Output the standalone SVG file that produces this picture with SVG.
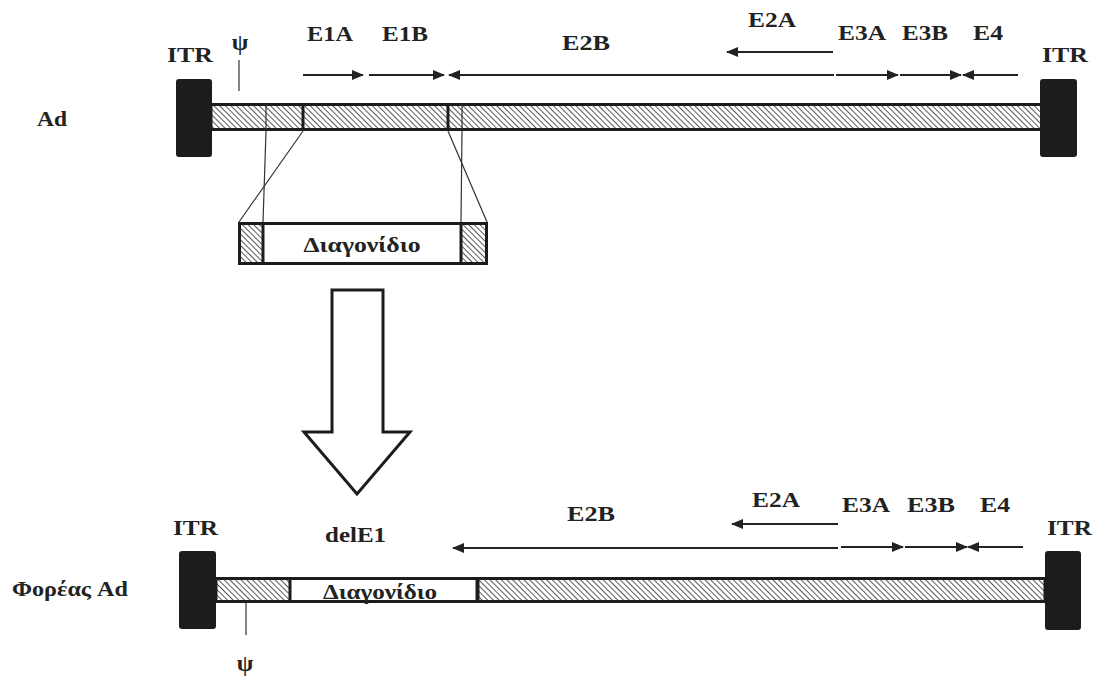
<svg xmlns="http://www.w3.org/2000/svg" width="1093" height="678" viewBox="0 0 1093 678">
<style>
text{font-family:"Liberation Serif","Times New Roman",serif;font-weight:bold;fill:#222;font-size:21px}
.itr{fill:#1c1c1c}
.bar{fill:url(#hatch);stroke:#1c1c1c;stroke-width:3}
.white{fill:#fff;stroke:#1c1c1c;stroke-width:3}
.div{stroke:#1c1c1c;stroke-width:3}
.thin{stroke:#333;stroke-width:1.2;fill:none}
.arr{stroke:#222;stroke-width:2;fill:none;marker-end:url(#ah)}
.psi{font-size:24px}
</style>
<defs>
<pattern id="hatch" patternUnits="userSpaceOnUse" width="4" height="4" patternTransform="rotate(-45)">
<rect width="4" height="4" fill="#fff"/>
<line x1="0" y1="0" x2="0" y2="4" stroke="#222" stroke-width="1.5"/>
</pattern>
<marker id="ah" markerUnits="userSpaceOnUse" markerWidth="12" markerHeight="10" refX="11" refY="5" orient="auto">
<path d="M0,0 L12,5 L0,10 z" fill="#222"/>
</marker>
</defs>
<rect width="1093" height="678" fill="#fff"/>

<g id="ad-top">
<rect class="bar" x="211" y="104.5" width="831" height="25"/>
<line class="div" x1="303" y1="104" x2="303" y2="130"/>
<line class="div" x1="448" y1="104" x2="448" y2="130"/>
<line class="thin" x1="266" y1="104" x2="266" y2="130"/>
<line class="thin" x1="462" y1="104" x2="462" y2="130"/>
<rect class="itr" x="176" y="79" width="36" height="78" rx="3"/>
<rect class="itr" x="1040" y="79" width="37" height="78" rx="3"/>
<line class="thin" x1="239" y1="60" x2="239" y2="91"/>
<text x="167" y="62" textLength="46" lengthAdjust="spacingAndGlyphs">ITR</text>
<text x="1042" y="62" textLength="46" lengthAdjust="spacingAndGlyphs">ITR</text>
<text class="psi" x="240" y="50" text-anchor="middle">ψ</text>
<text x="37" y="126" textLength="30" lengthAdjust="spacingAndGlyphs" font-size="19">Ad</text>
</g>

<g id="transgene-box">
<rect class="white" x="239.5" y="223.5" width="247" height="40"/>
<rect x="241" y="225" width="22" height="37" fill="url(#hatch)"/>
<rect x="462" y="225" width="23" height="37" fill="url(#hatch)"/>
<line class="div" x1="263" y1="223" x2="263" y2="264"/>
<line class="div" x1="461" y1="223" x2="461" y2="264"/>
<text x="362" y="252" text-anchor="middle" textLength="117" lengthAdjust="spacingAndGlyphs" font-size="19">Διαγονίδιο</text>
</g>

<g id="block-arrow">
<polygon points="332,290 383,290 383,432 410,432 357,494 304,432 332,432" fill="#fff" stroke="#1c1c1c" stroke-width="3" stroke-linejoin="miter"/>
</g>

<g id="ad-vector">
<rect class="bar" x="216" y="578.5" width="829" height="23"/>
<rect class="white" x="290" y="578.5" width="187" height="23"/>
<line class="div" x1="478" y1="578" x2="478" y2="602"/>
<rect class="itr" x="179" y="551" width="37" height="78" rx="3"/>
<rect class="itr" x="1045" y="551" width="36" height="79" rx="3"/>
<line class="thin" x1="246" y1="603" x2="246" y2="635"/>
<text x="380" y="599" text-anchor="middle" textLength="114" lengthAdjust="spacingAndGlyphs" font-size="19">Διαγονίδιο</text>
<text x="173" y="535" textLength="45" lengthAdjust="spacingAndGlyphs">ITR</text>
<text x="1047" y="535" textLength="45" lengthAdjust="spacingAndGlyphs">ITR</text>
<text x="325" y="542" textLength="61" lengthAdjust="spacingAndGlyphs">delE1</text>
<text class="psi" x="245" y="671" text-anchor="middle">ψ</text>
<text x="12" y="596" textLength="116" lengthAdjust="spacingAndGlyphs" font-size="19">Φορέας Ad</text>
</g>

<g id="connectors">
<line class="thin" x1="266" y1="131" x2="263" y2="222"/>
<line class="thin" x1="303" y1="131" x2="239" y2="222"/>
<line class="thin" x1="448" y1="131" x2="487" y2="222"/>
<line class="thin" x1="462" y1="131" x2="461" y2="222"/>
</g>

<g id="genes-top">
<line class="arr" x1="303" y1="75" x2="363" y2="75"/>
<line class="arr" x1="369" y1="75" x2="444" y2="75"/>
<line class="arr" x1="834" y1="75" x2="449" y2="75"/>
<line class="arr" x1="833" y1="52" x2="727" y2="52"/>
<line class="arr" x1="836" y1="75" x2="898" y2="75"/>
<line class="arr" x1="900" y1="75" x2="961" y2="75"/>
<line class="arr" x1="1018" y1="75" x2="963" y2="75"/>
<text x="307" y="41" textLength="46" lengthAdjust="spacingAndGlyphs">E1A</text>
<text x="382" y="41" textLength="46" lengthAdjust="spacingAndGlyphs">E1B</text>
<text x="562" y="50" textLength="48" lengthAdjust="spacingAndGlyphs">E2B</text>
<text x="748" y="27" textLength="48" lengthAdjust="spacingAndGlyphs">E2A</text>
<text x="838" y="40" textLength="48" lengthAdjust="spacingAndGlyphs">E3A</text>
<text x="902" y="40" textLength="46" lengthAdjust="spacingAndGlyphs">E3B</text>
<text x="973" y="40" textLength="30" lengthAdjust="spacingAndGlyphs">E4</text>
</g>

<g id="genes-bottom">
<line class="arr" x1="838" y1="548" x2="453" y2="548"/>
<line class="arr" x1="838" y1="524" x2="732" y2="524"/>
<line class="arr" x1="841" y1="547" x2="903" y2="547"/>
<line class="arr" x1="905" y1="547" x2="967" y2="547"/>
<line class="arr" x1="1023" y1="547" x2="968" y2="547"/>
<text x="567" y="521" textLength="48" lengthAdjust="spacingAndGlyphs">E2B</text>
<text x="752" y="507" textLength="48" lengthAdjust="spacingAndGlyphs">E2A</text>
<text x="842" y="512" textLength="48" lengthAdjust="spacingAndGlyphs">E3A</text>
<text x="907" y="512" textLength="48" lengthAdjust="spacingAndGlyphs">E3B</text>
<text x="980" y="512" textLength="30" lengthAdjust="spacingAndGlyphs">E4</text>
</g>
</svg>
